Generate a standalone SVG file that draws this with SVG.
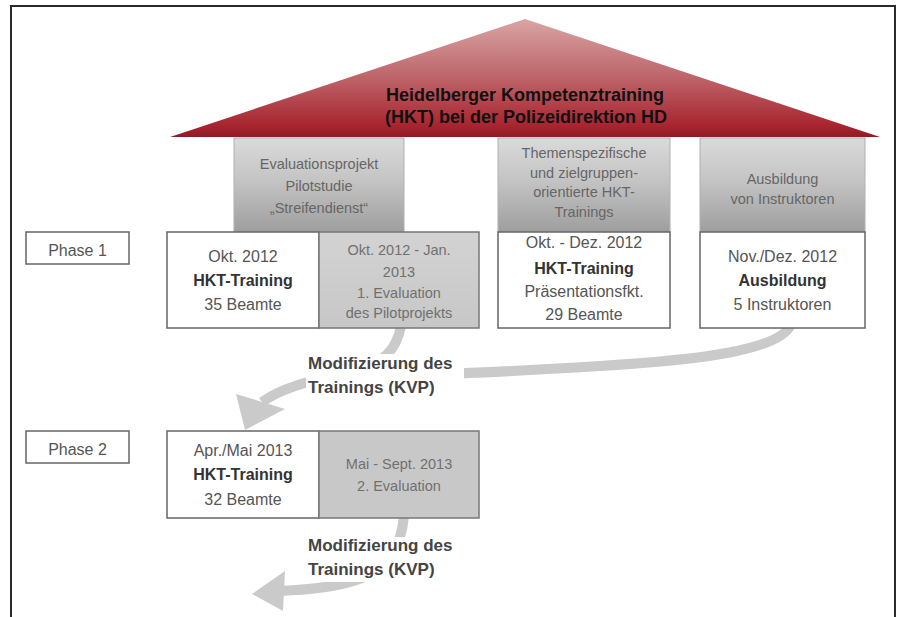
<svg xmlns="http://www.w3.org/2000/svg" width="899" height="617" viewBox="0 0 899 617">
<defs>
<linearGradient id="roofG" x1="0" y1="19" x2="0" y2="138" gradientUnits="userSpaceOnUse">
<stop offset="0" stop-color="#d9a5a5"/>
<stop offset="0.5" stop-color="#bd6368"/>
<stop offset="0.9" stop-color="#a8242f"/>
<stop offset="1" stop-color="#8f1a23"/>
</linearGradient>
<linearGradient id="headG" x1="0" y1="0" x2="0" y2="1">
<stop offset="0" stop-color="#dadada"/>
<stop offset="0.45" stop-color="#c4c4c4"/>
<stop offset="1" stop-color="#9e9e9e"/>
</linearGradient>
<linearGradient id="evalG" x1="0" y1="0" x2="0" y2="1">
<stop offset="0" stop-color="#d3d3d3"/>
<stop offset="1" stop-color="#c7c7c7"/>
</linearGradient>
<style>
text{font-family:"Liberation Sans",Arial,sans-serif}
.title{font-size:18px;font-weight:bold;fill:#111;text-anchor:middle}
.hd{font-size:14.5px;fill:#666;text-anchor:middle}
.reg{font-size:16px;fill:#555;text-anchor:middle}
.bld{font-size:16px;font-weight:bold;fill:#333;text-anchor:middle}
.ev{font-size:14.5px;fill:#707070;text-anchor:middle}
.ph{font-size:16px;fill:#555;text-anchor:middle}
.lbl{font-size:17px;font-weight:bold;fill:#444}
.box{fill:#fff;stroke:#666;stroke-width:1.5}
.gbox{fill:url(#evalG);stroke:#777;stroke-width:1.5}
.head{fill:url(#headG);stroke:#b0b0b0;stroke-width:1}
.phbox{fill:#fff;stroke:#666;stroke-width:1.5}
.arr{fill:none;stroke:#cacaca;stroke-width:10}
.ah{fill:#cacaca}
</style>
</defs>
<rect x="0" y="0" width="899" height="617" fill="#fff"/>
<path d="M11,617 V6 H895 V617" fill="none" stroke="#2a2a2a" stroke-width="2"/>

<g id="roof">
<polygon points="170,137 525,19 880,137" fill="url(#roofG)"/>
<text class="title" x="525" y="101">Heidelberger Kompetenztraining</text>
<text class="title" x="526" y="123">(HKT) bei der Polizeidirektion HD</text>
</g>

<g id="connectors">
<path class="arr" d="M401,326 C396,352 382,362 360,369 C330,378 290,382 262,402"/>
<path class="arr" d="M790,326 C778,350 700,360 600,366 C520,371 450,375 370,376"/>
<polygon class="ah" points="236,394 285,409 245,430"/>
<path class="arr" d="M404,516 C401,548 388,568 362,578 C335,588 305,590 280,591"/>
<polygon class="ah" points="285,571 283,611 252,594"/>
</g>

<g id="pillar-eval">
<rect class="head" x="234" y="138" width="170" height="94"/>
<text class="hd" x="319" y="169">Evaluationsprojekt</text>
<text class="hd" x="319" y="191">Pilotstudie</text>
<text class="hd" x="319" y="213">„Streifendienst“</text>
</g>
<g id="pillar-themen">
<rect class="head" x="498" y="138" width="172" height="94"/>
<text class="hd" x="584" y="158">Themenspezifische</text>
<text class="hd" x="584" y="178">und zielgruppen-</text>
<text class="hd" x="584" y="197">orientierte HKT-</text>
<text class="hd" x="584" y="217">Trainings</text>
</g>
<g id="pillar-ausbildung">
<rect class="head" x="700" y="138" width="165" height="94"/>
<text class="hd" x="782.5" y="184">Ausbildung</text>
<text class="hd" x="782.5" y="204">von Instruktoren</text>
</g>

<g id="phase1">
<rect class="phbox" x="26" y="232" width="103" height="32"/>
<text class="ph" x="77.5" y="256">Phase 1</text>
</g>
<g id="p1-training">
<rect class="box" x="167" y="232" width="152" height="96"/>
<text class="reg" x="243" y="262">Okt. 2012</text>
<text class="bld" x="243" y="286">HKT-Training</text>
<text class="reg" x="243" y="310">35 Beamte</text>
</g>
<g id="p1-evaluation">
<rect class="gbox" x="319" y="232" width="160" height="96"/>
<text class="ev" x="399" y="255">Okt. 2012 - Jan.</text>
<text class="ev" x="399" y="277">2013</text>
<text class="ev" x="399" y="298">1. Evaluation</text>
<text class="ev" x="399" y="318">des Pilotprojekts</text>
</g>
<g id="p1-themen">
<rect class="box" x="498" y="232" width="172" height="96"/>
<text class="reg" x="584" y="248">Okt. - Dez. 2012</text>
<text class="bld" x="584" y="274">HKT-Training</text>
<text class="reg" x="584" y="297">Präsentationsfkt.</text>
<text class="reg" x="584" y="320">29 Beamte</text>
</g>
<g id="p1-ausbildung">
<rect class="box" x="700" y="232" width="165" height="96"/>
<text class="reg" x="782.5" y="262">Nov./Dez. 2012</text>
<text class="bld" x="782.5" y="286">Ausbildung</text>
<text class="reg" x="782.5" y="310">5 Instruktoren</text>
</g>

<g id="label1">
<rect x="306" y="354" width="158" height="44" fill="#fff"/>
<text class="lbl" x="308" y="369">Modifizierung des</text>
<text class="lbl" x="308" y="393">Trainings (KVP)</text>
</g>

<g id="phase2">
<rect class="phbox" x="26" y="431" width="103" height="32"/>
<text class="ph" x="77.5" y="455">Phase 2</text>
</g>
<g id="p2-training">
<rect class="box" x="167" y="431" width="152" height="87"/>
<text class="reg" x="243" y="456">Apr./Mai 2013</text>
<text class="bld" x="243" y="480">HKT-Training</text>
<text class="reg" x="243" y="505">32 Beamte</text>
</g>
<g id="p2-evaluation">
<rect class="gbox" x="319" y="431" width="160" height="87" style="fill:#c8c8c8"/>
<text class="ev" x="399" y="469">Mai - Sept. 2013</text>
<text class="ev" x="399" y="491">2. Evaluation</text>
</g>

<g id="label2">
<rect x="306" y="537" width="158" height="45" fill="#fff"/>
<text class="lbl" x="308" y="551">Modifizierung des</text>
<text class="lbl" x="308" y="575">Trainings (KVP)</text>
</g>
</svg>
